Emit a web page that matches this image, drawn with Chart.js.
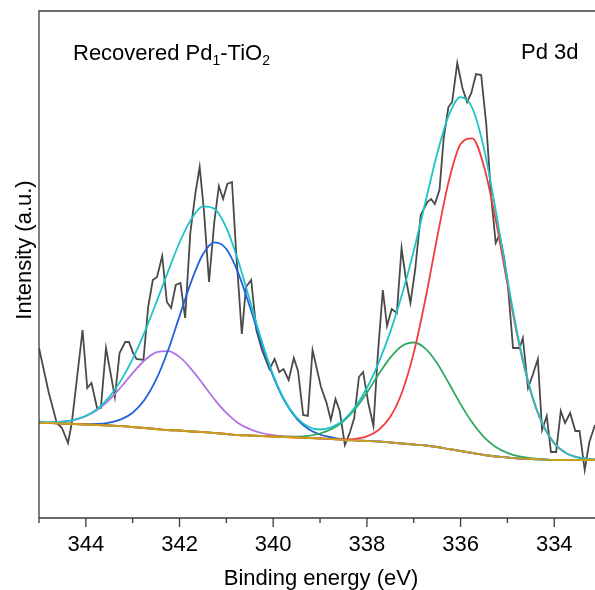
<!DOCTYPE html>
<html>
<head>
<meta charset="utf-8">
<script src="https://cdn.jsdelivr.net/npm/chart.js@4.4.1/dist/chart.umd.min.js"></script>
<style>
  html, body { margin: 0; padding: 0; background: #fff; }
  #wrap { width: 595px; height: 590px; }
</style>
</head>
<body>
<div id="wrap"><canvas id="xps" width="595" height="590"></canvas></div>
<script>
const FONT = "'Liberation Sans', Arial, sans-serif";

// raw Pd 3d spectrum: binding energy (eV) / intensity (a.u.)
const rawEnergy = [345.00, 344.79, 344.62, 344.51, 344.38, 344.30, 344.07, 343.97, 343.88, 343.76,
  343.68, 343.57, 343.38, 343.28, 343.16, 343.08, 342.99, 342.92, 342.77, 342.67,
  342.57, 342.48, 342.37, 342.27, 342.18, 342.08, 341.98, 341.88, 341.77, 341.66,
  341.57, 341.48, 341.37, 341.26, 341.16, 341.07, 340.98, 340.88, 340.79, 340.67,
  340.58, 340.47, 340.36, 340.24, 340.08, 339.97, 339.87, 339.78, 339.67, 339.56,
  339.47, 339.36, 339.26, 339.16, 338.98, 338.86, 338.77, 338.67, 338.58, 338.47,
  338.36, 338.27, 338.17, 338.08, 337.97, 337.86, 337.77, 337.66, 337.57, 337.47,
  337.36, 337.26, 337.17, 337.07, 336.97, 336.85, 336.71, 336.63, 336.55, 336.45,
  336.36, 336.26, 336.18, 336.07, 335.96, 335.86, 335.77, 335.67, 335.56, 335.45,
  335.35, 335.25, 335.17, 335.07, 334.99, 334.88, 334.74, 334.67, 334.56, 334.46,
  334.35, 334.26, 334.16, 334.07, 333.96, 333.86, 333.77, 333.66, 333.55, 333.46,
  333.35, 333.25, 333.13];
const rawIntensity = [170, 125, 95, 90, 75, 95, 188, 130, 135, 110,
  110, 170, 121, 165, 176, 176, 165, 159, 158, 211,
  238, 241, 262, 216, 210, 233, 235, 200, 285, 325,
  351, 308, 236, 295, 332, 319, 334, 336, 265, 184,
  231, 238, 188, 168, 149, 159, 146, 149, 138, 160,
  147, 103, 102, 168, 131, 115, 98, 119, 107, 73,
  86, 100, 141, 146, 115, 92, 161, 228, 192, 209,
  205, 270, 240, 215, 248, 303, 316, 319, 314, 328,
  380, 411, 416, 455, 430, 416, 425, 444, 443, 393,
  323, 275, 283, 260, 233, 170, 170, 180, 130, 143,
  159, 88, 102, 66, 66, 107, 95, 105, 87, 87,
  48, 76, 93];

// fitted curves, read every 0.25 eV
const fitEnergy = [345.00, 344.75, 344.50, 344.25, 344.00, 343.75, 343.50, 343.25, 343.00, 342.75,
  342.50, 342.25, 342.00, 341.75, 341.50, 341.25, 341.00, 340.75, 340.50, 340.25,
  340.00, 339.75, 339.50, 339.25, 339.00, 338.75, 338.50, 338.25, 338.00, 337.75,
  337.50, 337.25, 337.00, 336.75, 336.50, 336.25, 336.00, 335.75, 335.50, 335.25,
  335.00, 334.75, 334.50, 334.25, 334.00, 333.75, 333.50, 333.25, 333.00];
const background = [95, 95, 94.5, 94, 93.5, 93, 92.5, 92, 91, 90,
  89, 88, 87.5, 86.5, 86, 85, 84, 83, 82.5, 82,
  81.5, 81, 80.5, 80, 79.5, 79, 78, 77.5, 77, 76.5,
  75.5, 74.5, 73.5, 72.5, 71, 69, 67, 65, 63, 61.5,
  60.5, 59.5, 59, 58.5, 58, 58, 58, 58, 58];
const peak342 = [95.3, 95.7, 96.3, 98.1, 101.8, 108.3, 118.1, 131.0, 144.9, 157.5,
  165.6, 166.9, 161.1, 148.9, 133.9, 118.4, 105.1, 95.1, 88.8, 85.0,
  82.8, 81.5, 80.7, 80, 79.5, 79, 78, 77.5, 77, 76.5,
  75.5, 74.5, 73.5, 72.5, 71, 69, 67, 65, 63, 61.5,
  60.5, 59.5, 59, 58.5, 58, 58, 58, 58, 58];
const peak341 = [95, 95, 94.5, 94.1, 93.9, 94.0, 95.3, 98.6, 105.2, 117.9,
  138.3, 167.0, 201.9, 236.4, 263.7, 275.6, 269.0, 245.4, 211.5, 174.7,
  141.7, 116.4, 99.4, 89.1, 83.5, 80.6, 78.6, 77.7, 77.1, 76.5,
  75.5, 74.5, 73.5, 72.5, 71, 69, 67, 65, 63, 61.5,
  60.5, 59.5, 59, 58.5, 58, 58, 58, 58, 58];
const peak337 = [95, 95, 94.5, 94, 93.5, 93, 92.5, 92, 91, 90,
  89, 88, 87.5, 86.5, 86, 85, 84, 83, 82.5, 82,
  81.6, 81.3, 81.4, 82.2, 84.5, 89.1, 96.8, 109.1, 125.3, 143.7,
  160.4, 172.1, 175.5, 169.4, 154.7, 134.7, 113.9, 95.4, 80.9, 71.1,
  65.2, 61.6, 59.8, 58.8, 58.1, 58, 58, 58, 58];
const peak336 = [95, 95, 94.5, 94, 93.5, 93, 92.5, 92, 91, 90,
  89, 88, 87.5, 86.5, 86, 85, 84, 83, 82.5, 82,
  81.5, 81, 80.5, 80, 79.5, 79.2, 78.5, 79.2, 81.6, 88.0,
  101.2, 125.8, 165.1, 219.0, 280.5, 337.1, 374.0, 379.6, 351.5, 298.2,
  234.3, 173.7, 126.1, 93.8, 74.6, 65.0, 60.6, 58.9, 58.3];
const envelope = [96.5, 95.5, 96.3, 98.2, 102.2, 109.3, 120.9, 137.6, 159.1, 185.4,
  214.9, 245.9, 275.5, 298.8, 311.6, 309.0, 290.1, 257.5, 217.8, 177.7,
  143.1, 117.2, 100.5, 91.3, 88.5, 90.9, 97.9, 111.0, 130.0, 155.2,
  186.1, 223.4, 267.1, 315.9, 364.2, 402.8, 420.9, 410.0, 369.4, 307.8,
  239.0, 175.8, 126.9, 94.1, 74.7, 65.0, 60.6, 58.9, 58.3];

const xTicks = [344, 342, 340, 338, 336, 334];

function pts(xs, ys) {
    return xs.map((x, i) => ({ x: x, y: ys[i] }));
}

function fitSet(ys, color, order) {
    return {
        data: pts(fitEnergy, ys),
        borderColor: color,
        borderWidth: 1.8,
        pointRadius: 0,
        cubicInterpolationMode: 'monotone',
        fill: false,
        order: order
    };
}

const frame = {
    id: 'frame',
    afterDraw(chart) {
        const { ctx, chartArea: a, scales: { x } } = chart;
        ctx.save();
        ctx.strokeStyle = '#3a3a3a';
        ctx.lineWidth = 1.3;
        ctx.beginPath();
        ctx.moveTo(a.right + 2, a.top);
        ctx.lineTo(a.left, a.top);
        ctx.lineTo(a.left, a.bottom);
        ctx.lineTo(a.right + 2, a.bottom);
        for (let v = 334; v <= 345; v++) {
            const px = x.getPixelForValue(v);
            ctx.moveTo(px, a.bottom);
            ctx.lineTo(px, a.bottom + (v % 2 === 0 ? 9 : 5));
        }
        ctx.stroke();

        ctx.fillStyle = '#000';
        ctx.textBaseline = 'alphabetic';
        ctx.textAlign = 'left';
        // sample label with subscripts
        let tx = 73;
        const parts = [['Recovered Pd', 22, 0], ['1', 14, 5], ['-TiO', 22, 0], ['2', 14, 5]];
        parts.forEach(p => {
            ctx.font = p[1] + 'px ' + FONT;
            ctx.fillText(p[0], tx, 60 + p[2]);
            tx += ctx.measureText(p[0]).width;
        });
        ctx.font = '22px ' + FONT;
        ctx.fillText('Pd 3d', 521, 58.5);

        ctx.textAlign = 'center';
        ctx.fillText('Binding energy (eV)', 321, 585);
        ctx.translate(31, 250);
        ctx.rotate(-Math.PI / 2);
        ctx.fillText('Intensity (a.u.)', 0, 0);
        ctx.restore();
    }
};

new Chart(document.getElementById('xps'), {
    type: 'line',
    data: {
        datasets: [
            {
                data: pts(rawEnergy, rawIntensity),
                borderColor: '#4a4a4a',
                borderWidth: 1.8,
                pointRadius: 0,
                tension: 0,
                fill: false,
                order: 7
            },
            fitSet(peak342, '#b373e3', 6),
            fitSet(peak341, '#1f62dc', 5),
            fitSet(peak337, '#2fa862', 4),
            fitSet(peak336, '#f03c3c', 3),
            fitSet(envelope, '#1cc4c8', 2),
            fitSet(background, '#c9a01c', 1)
        ]
    },
    options: {
        responsive: false,
        animation: false,
        devicePixelRatio: 1,
        layout: { padding: { left: 39, top: 11, right: 0, bottom: 0 } },
        plugins: { legend: { display: false }, tooltip: { enabled: false } },
        scales: {
            x: {
                type: 'linear',
                reverse: true,
                min: 333.13,
                max: 345,
                grid: { display: false, drawTicks: false },
                border: { display: false },
                afterBuildTicks: s => { s.ticks = xTicks.map(v => ({ value: v })); },
                afterFit: s => { s.height = 72; },
                ticks: {
                    padding: 14,
                    maxRotation: 0,
                    color: '#000',
                    font: { family: FONT, size: 22 }
                }
            },
            y: {
                display: false,
                min: 0,
                max: 507
            }
        }
    },
    plugins: [frame]
});
</script>
</body>
</html>
